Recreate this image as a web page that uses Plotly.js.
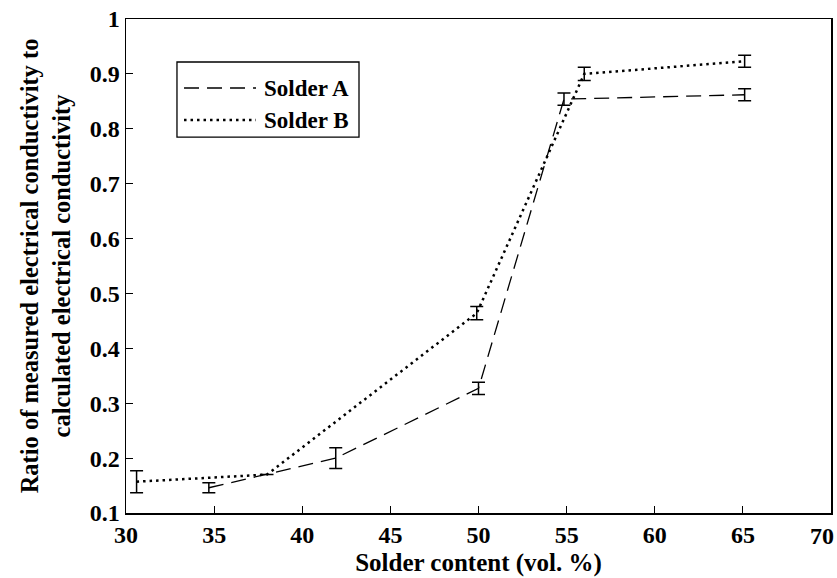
<!DOCTYPE html>
<html>
<head>
<meta charset="utf-8">
<script src="https://cdn.plot.ly/plotly-3.0.1.min.js"></script>
<style>html,body{margin:0;padding:0;background:#fff;}#chart{width:837px;height:578px;}</style>
</head>
<body>
<div id="chart"></div>
<script>
// Solder A (dashed)
const solderAX = [34.7, 41.9, 50.0, 54.85, 65.1];
const solderAY = [0.146, 0.200, 0.327, 0.854, 0.862];
const solderAErr = [0.009, 0.019, 0.011, 0.011, 0.011];
// Solder B (dotted)
const solderBX = [30.6, 38.0, 49.9, 56.0, 65.1];
const solderBY = [0.157, 0.170, 0.464, 0.900, 0.923];
const solderBErr = [0.020, null, 0.012, 0.012, 0.011];

const seriesNames = ['Solder A', 'Solder B'];
const xTicks = [30, 35, 40, 45, 50, 55, 60, 65, 70];
const xTickText = ['30', '35', '40', '45', '50', '55', '60', '65', '70'];
const yTicks = [0.1, 0.2, 0.3, 0.4, 0.5, 0.6, 0.7, 0.8, 0.9, 1];
const yTickText = ['0.1','0.2','0.3','0.4','0.5','0.6','0.7','0.8','0.9','1'];

const serif = '"Liberation Serif", "Times New Roman", Times, serif';
const bold = s => '<b>' + s + '</b>';
const dashA = '15px,8px';
const dashB = '2.5px,4px';

const traces = [
  {
    x: solderAX, y: solderAY, name: seriesNames[0], type: 'scatter', mode: 'lines',
    line: {color: '#000', width: 1.3, dash: dashA},
    error_y: {type: 'data', array: solderAErr, visible: true, color: '#000', thickness: 1.5, width: 6.5}
  },
  {
    x: solderBX, y: solderBY, name: seriesNames[1], type: 'scatter', mode: 'lines',
    line: {color: '#000', width: 2.5, dash: dashB},
    error_y: {type: 'data', array: solderBErr, visible: true, color: '#000', thickness: 1.5, width: 6.5}
  }
];

// Legend box drawn in paper coordinates (MATLAB-style long line samples)
const legBox = {x0: 0.0723, x1: 0.3305, y0: 0.761, y1: 0.913};
const legRows = [0.8603, 0.7955];
const legSample = [0.0823, 0.1844];
const legText = 0.1929;

const shapes = [
  {type: 'rect', xref: 'paper', yref: 'paper', x0: legBox.x0, x1: legBox.x1, y0: legBox.y0, y1: legBox.y1,
   line: {color: '#000', width: 1.3}, fillcolor: '#fff', layer: 'above'},
  {type: 'line', xref: 'paper', yref: 'paper', x0: legSample[0], x1: legSample[1], y0: legRows[0], y1: legRows[0],
   line: {color: '#000', width: 1.3, dash: dashA}, layer: 'above'},
  {type: 'line', xref: 'paper', yref: 'paper', x0: legSample[0], x1: legSample[1], y0: legRows[1], y1: legRows[1],
   line: {color: '#000', width: 2.5, dash: dashB}, layer: 'above'}
];
const annotations = seriesNames.map((n, i) => ({
  xref: 'paper', yref: 'paper', x: legText, y: legRows[i], xanchor: 'left', yanchor: 'middle',
  text: bold(n), showarrow: false, font: {family: serif, size: 23, color: '#000'}
}));
// last x tick label, nudged left so it stays inside the page (as in the reference)
const lastTick = xTicks.length - 1;
annotations.push({
  xref: 'x', yref: 'paper', x: xTicks[lastTick], y: 0, xanchor: 'right', yanchor: 'top',
  xshift: 5, yshift: -8,
  text: bold(xTickText[lastTick]), showarrow: false, font: {family: serif, size: 24, color: '#000'}
});

const layout = {
  width: 837, height: 578,
  margin: {l: 126, r: 6, t: 19, b: 65},
  paper_bgcolor: '#fff', plot_bgcolor: '#fff',
  font: {family: serif, color: '#000'},
  showlegend: false,
  shapes: shapes,
  annotations: annotations,
  xaxis: {
    range: [30, 70], tickvals: xTicks, ticktext: xTickText.map((t, i) => i === lastTick ? '' : bold(t)),
    ticks: 'inside', ticklen: 7, tickwidth: 1.2, tickcolor: '#000',
    showline: true, linecolor: '#000', linewidth: 1.5, mirror: true,
    showgrid: false, zeroline: false,
    tickfont: {family: serif, size: 24, color: '#000'},
    title: {text: bold('Solder content (vol. %)'), font: {family: serif, size: 25, color: '#000'}, standoff: 6}
  },
  yaxis: {
    range: [0.1, 1], tickvals: yTicks, ticktext: yTickText.map(bold),
    ticks: 'inside', ticklen: 7, tickwidth: 1.2, tickcolor: '#000',
    showline: true, linecolor: '#000', linewidth: 1.5, mirror: true,
    showgrid: false, zeroline: false, ticklabeloverflow: 'allow',
    tickfont: {family: serif, size: 24, color: '#000'},
    title: {text: bold('Ratio of measured electrical conductivity to<br>calculated electrical conductivity'), font: {family: serif, size: 24.5, color: '#000'}, standoff: 12}
  }
};

Plotly.newPlot('chart', traces, layout, {displayModeBar: false, staticPlot: true});
</script>
</body>
</html>
